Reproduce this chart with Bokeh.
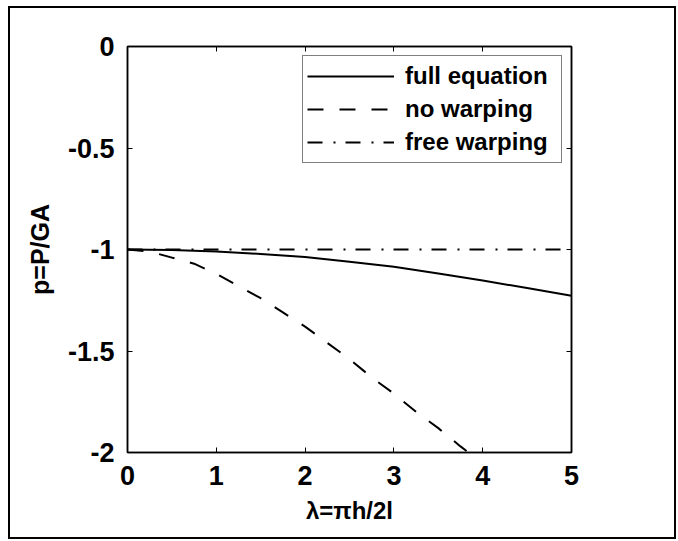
from bokeh.plotting import figure
from bokeh.models import LinearAxis, FixedTicker, Range1d, Legend, LegendItem
from bokeh.embed import file_html
from bokeh.resources import INLINE

# data
lam_full = [0, 0.5, 1, 1.5, 2, 2.5, 3, 3.5, 4, 4.5, 5]
p_full = [-1.0, -1.002, -1.01, -1.022, -1.037, -1.06, -1.085, -1.118, -1.153, -1.19, -1.228]

lam_nowarp = [0, 0.25, 0.5, 0.75, 1, 1.25, 1.5, 1.75, 2, 2.25, 2.5, 2.75, 3, 3.25, 3.5, 3.75, 3.84]
p_nowarp = [-1.0, -1.01, -1.04, -1.07, -1.12, -1.18, -1.24, -1.31, -1.38, -1.46, -1.54, -1.63,
            -1.71, -1.80, -1.88, -1.97, -2.0]

lam_free = [0, 5]
p_free = [-1.0, -1.0]

x_ticks = [0, 1, 2, 3, 4, 5]
x_tick_labels = ["0", "1", "2", "3", "4", "5"]
y_ticks = [0, -0.5, -1, -1.5, -2]
y_tick_labels = ["0", "-0.5", "-1", "-1.5", "-2"]

FONT = "Liberation Sans"

p = figure(width=668, height=533, output_backend="svg", toolbar_location=None,
           x_range=Range1d(0, 5), y_range=Range1d(-2, 0),
           min_border_left=117, min_border_right=107, min_border_top=38, min_border_bottom=89)
p.styles = {"border": "2px solid black", "margin-left": "8px", "margin-top": "6px"}
p.background_fill_color = "white"
p.border_fill_color = "white"
p.grid.visible = False
p.outline_line_color = "black"
p.outline_line_width = 1.5

def style_axis(ax):
    ax.axis_line_color = "black"
    ax.axis_line_width = 1.5
    ax.major_tick_in = 5
    ax.major_tick_out = 0
    ax.minor_tick_line_color = None
    ax.major_tick_line_color = "black"
    ax.major_tick_line_width = 1
    ax.major_label_text_font = FONT
    ax.major_label_text_font_style = "bold"
    ax.major_label_text_font_size = "27px"
    ax.major_label_text_color = "black"
    ax.axis_label_text_font = FONT
    ax.axis_label_text_font_style = "bold"
    ax.axis_label_text_font_size = "24px"
    ax.axis_label_text_color = "black"

p.xaxis.ticker = FixedTicker(ticks=x_ticks)
p.xaxis.major_label_overrides = {t: l for t, l in zip(x_ticks, x_tick_labels)}
p.yaxis.ticker = FixedTicker(ticks=y_ticks)
p.yaxis.major_label_overrides = {t: l for t, l in zip(y_ticks, y_tick_labels)}
style_axis(p.xaxis[0])
style_axis(p.yaxis[0])
p.xaxis.axis_label = "λ=πh/2l"
p.yaxis.axis_label = "p=P/GA"
p.yaxis.axis_label_text_font_size = "25px"
p.xaxis.major_label_standoff = 13
p.yaxis.major_label_standoff = 13
p.xaxis.axis_label_standoff = 9
p.yaxis.axis_label_standoff = 11

top = LinearAxis(ticker=FixedTicker(ticks=x_ticks))
right = LinearAxis(ticker=FixedTicker(ticks=y_ticks))
for ax in (top, right):
    style_axis(ax)
    ax.major_label_text_font_size = "0px"
    ax.major_label_text_alpha = 0
p.add_layout(top, "above")
p.add_layout(right, "right")

r_full = p.line(lam_full, p_full, line_color="black", line_width=2)
r_no = p.line(lam_nowarp, p_nowarp, line_color="black", line_width=2, line_dash="16 16")
r_free = p.line(lam_free, p_free, line_color="black", line_width=2, line_dash="15 11 2 10")

legend = Legend(items=[
    LegendItem(label="full equation", renderers=[r_full]),
    LegendItem(label="no warping", renderers=[r_no]),
    LegendItem(label="free warping", renderers=[r_free]),
], location="top_right")
legend.margin = 9
legend.padding = 4
legend.spacing = 1
legend.glyph_width = 87
legend.glyph_height = 32
legend.label_height = 32
legend.label_width = 152
legend.label_standoff = 11
legend.label_text_font = FONT
legend.label_text_font_style = "bold"
legend.label_text_font_size = "24px"
legend.label_text_color = "black"
legend.border_line_color = "black"
legend.border_line_width = 1
legend.background_fill_color = "white"
legend.background_fill_alpha = 1
p.add_layout(legend, "center")

open("out.html", "w").write(file_html(p, INLINE))
